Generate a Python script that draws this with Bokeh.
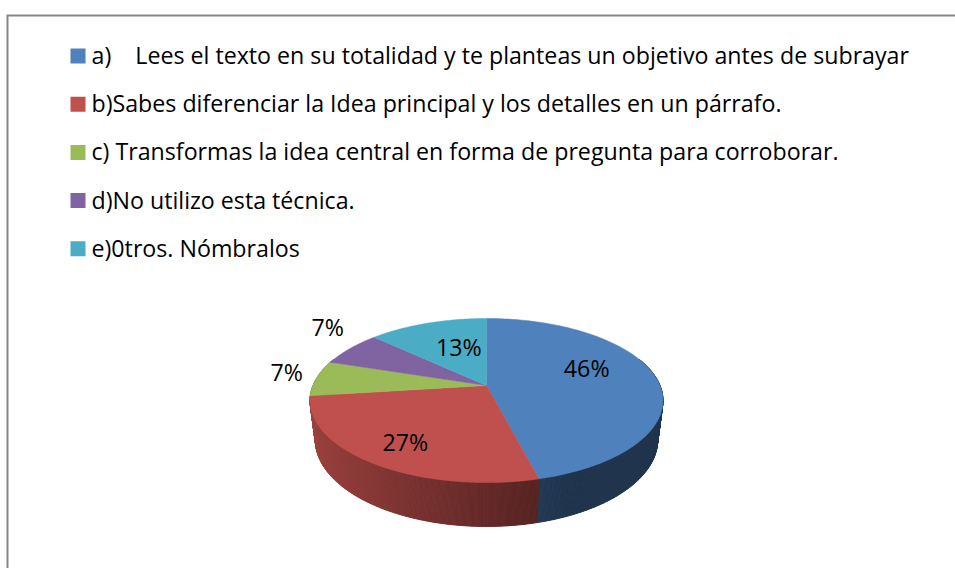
import numpy as np
from bokeh.plotting import figure
from bokeh.models import Range1d, ColumnDataSource
from bokeh.core.properties import value
from bokeh.embed import file_html
from bokeh.resources import INLINE

# ---- data ----
categories = ["a)", "b)", "c)", "d)", "e)"]
legend_texts = [
    "a)\u00a0\u00a0\u00a0\u00a0Lees el texto en su totalidad y te planteas un objetivo antes de subrayar",
    "b)Sabes diferenciar la Idea principal y los detalles en un párrafo.",
    "c) Transformas la idea central en forma de pregunta para corroborar.",
    "d)No utilizo esta técnica.",
    "e)0tros. Nómbralos",
]
values = [46, 27, 7, 7, 13]
colors = ["#4F81BD", "#C0504D", "#9BBB59", "#8064A2", "#4BACC6"]

# ---- layout constants ----
W, H = 955, 568
FONT = "Open Sans"
FSIZE = "23.2px"
cx, cy = 486.0, 385.0          # pie apex (px)
A, B, K, D, M = 79.3, 173.5, 0.183, 40.1, 0.03
label_r = [0.59, 0.74, 1.18, 1.18, 0.43]
label_lift = [-12, 2, -4.5, -16, -9]

p = figure(width=W, height=H, x_range=Range1d(0, W), y_range=Range1d(H, 0),
           output_backend="svg", toolbar_location=None, min_border=0,
           x_axis_type=None, y_axis_type=None)
p.grid.visible = False
p.outline_line_color = None
p.background_fill_color = "white"
p.border_fill_color = "white"

# border frame
p.line(x=[7, 7, W], y=[H, 15, 15], line_color="#868686", line_width=2, line_join="miter")


def proj(alpha, r=1.0, t=0.0):
    X = r * np.sin(alpha)
    Y = r * np.cos(alpha)
    w = 1 + K * Y + M * t
    return cx + B * X / w, cy + (-A * Y + D * t) / w


def hex2rgb(h):
    h = h.lstrip("#")
    return [int(h[i:i + 2], 16) for i in (0, 2, 4)]


total = float(sum(values))
cum = np.concatenate([[0], np.cumsum(values)]) / total * 2 * np.pi

# ---- side strips ----
strips = []
for i, v in enumerate(values):
    a0, a1 = cum[i], cum[i + 1]
    n = max(2, int(np.degrees(a1 - a0) / 0.5) + 1)
    angs = np.linspace(a0, a1, n)
    base = hex2rgb(colors[i])
    for j in range(n - 1):
        am = 0.5 * (angs[j] + angs[j + 1])
        if np.cos(am) > 0.35:
            continue
        X = np.sin(am)
        f = max(0.41, 0.526 - 0.304 * X)
        c = "#%02x%02x%02x" % tuple(int(min(255, ch * f)) for ch in base)
        tx1, ty1 = proj(angs[j])
        tx2, ty2 = proj(angs[j + 1])
        bx1, by1 = proj(angs[j], t=1.0)
        bx2, by2 = proj(angs[j + 1], t=1.0)
        strips.append((np.cos(am), [tx1, tx2, bx2, bx1], [ty1, ty2, by2, by1], c))
strips.sort(key=lambda s: -s[0])
side_src = ColumnDataSource(dict(xs=[s[1] for s in strips], ys=[s[2] for s in strips],
                                 c=[s[3] for s in strips]))
p.patches("xs", "ys", source=side_src, fill_color="c", line_color="c", line_width=1.0)

# ---- top face ----
txs, tys = [], []
for i, v in enumerate(values):
    angs = np.linspace(cum[i], cum[i + 1], 120)
    x, y = proj(angs)
    txs.append([cx] + list(x))
    tys.append([cy] + list(y))
top_src = ColumnDataSource(dict(xs=txs, ys=tys, c=colors))
p.patches("xs", "ys", source=top_src, fill_color="c", line_color="c", line_width=0.5)

# ---- data labels ----
lx, ly, lt = [], [], []
for i, v in enumerate(values):
    am = 0.5 * (cum[i] + cum[i + 1])
    x, y = proj(am, r=label_r[i])
    lx.append(float(x))
    ly.append(float(y) + label_lift[i])
    lt.append("%d%%" % round(v / total * 100))
p.text(x=lx, y=ly, text=lt, text_font=value(FONT), text_font_size=FSIZE,
       text_align="center", text_baseline="middle", text_color="black")

# ---- legend ----
ley = [55.5 + 48.2 * i for i in range(len(categories))]
p.rect(x=[77.5] * len(categories), y=ley, width=15, height=15, fill_color=colors, line_color=None)
p.text(x=[91] * len(categories), y=[v - 1 for v in ley], text=legend_texts, text_font=value(FONT),
       text_font_size=FSIZE, text_align="left", text_baseline="middle", text_color="black")

open("out.html", "w").write(file_html(p, INLINE))
